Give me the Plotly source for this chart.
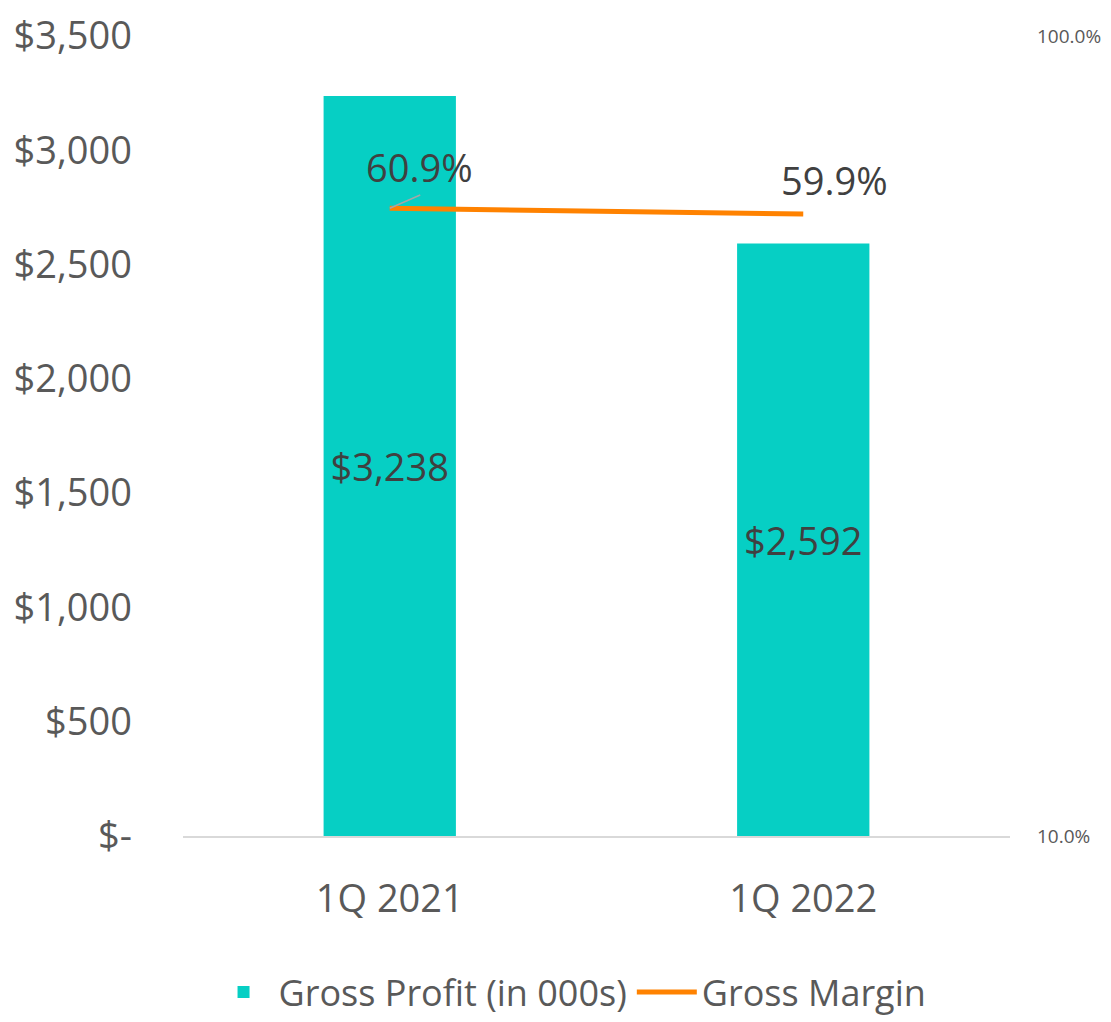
import numpy as np
import plotly.graph_objects as go

categories = ["1Q 2021", "1Q 2022"]
gross_profit = [3238, 2592]
gross_margin = [0.609, 0.599]
left_ticks = [0, 500, 1000, 1500, 2000, 2500, 3000, 3500]
right_ticks = [0.10, 1.00]

BAR_COLOR = "#06CFC4"
LINE_COLOR = "#FF8200"
TICK_COLOR = "#595959"
LABEL_COLOR = "#404040"
FONT = "Open Sans"

def dollar(v):
    return "$-" if v == 0 else "${:,.0f}".format(v)

fig = go.Figure()
fig.add_trace(go.Bar(
    x=categories, y=gross_profit, name="Gross Profit (in 000s)",
    marker=dict(color=BAR_COLOR, line=dict(width=0)),
    text=[dollar(v) for v in gross_profit], textposition="inside",
    insidetextanchor="middle",
    textfont=dict(family=FONT, size=38, color=LABEL_COLOR),
    yaxis="y",
))
fig.add_trace(go.Scatter(
    x=categories, y=gross_margin, name="Gross Margin", mode="lines",
    line=dict(color=LINE_COLOR, width=5), yaxis="y2",
))

# leader line for first margin label
fig.add_annotation(
    x=categories[0], y=np.log10(gross_margin[0]), xref="x", yref="y2",
    text="", showarrow=True, arrowhead=0, arrowwidth=1.5,
    arrowcolor="#A6A6A6", ax=32, ay=-14,
)
fig.add_annotation(
    x=categories[0], y=np.log10(gross_margin[0]), xref="x", yref="y2",
    text="{:.1%}".format(gross_margin[0]), showarrow=False,
    xshift=30, yshift=41,
    font=dict(family=FONT, size=38, color=LABEL_COLOR),
)
fig.add_annotation(
    x=categories[1], y=np.log10(gross_margin[1]), xref="x", yref="y2",
    text="{:.1%}".format(gross_margin[1]), showarrow=False,
    xshift=31, yshift=34,
    font=dict(family=FONT, size=38, color=LABEL_COLOR),
)

TOP, BOTTOM = 28, 186
PLOT_H = 1014 - TOP - BOTTOM

fig.update_layout(
    width=1103, height=1014,
    margin=dict(l=175, r=101, t=TOP, b=BOTTOM, autoexpand=False),
    paper_bgcolor="white", plot_bgcolor="white",
    font=dict(family=FONT, color=TICK_COLOR),
    bargap=0.68,
    showlegend=True,
    legend=dict(orientation="h", x=0.468, xanchor="center", y=-BOTTOM / PLOT_H, yanchor="bottom",
                font=dict(family=FONT, size=36, color=TICK_COLOR),
                itemwidth=60, bgcolor="rgba(0,0,0,0)",
                itemsizing="constant", traceorder="normal"),
    xaxis=dict(showgrid=False, showline=True, linecolor="#D9D9D9", linewidth=2,
               tickfont=dict(family=FONT, size=38, color=TICK_COLOR),
               ticks="", ticklabelstandoff=28, automargin=False),
    yaxis=dict(range=[0, 3500], tickvals=left_ticks,
               ticktext=[dollar(v) for v in left_ticks],
               showgrid=False, zeroline=False, showline=False,
               tickfont=dict(family=FONT, size=38, color=TICK_COLOR),
               ticks="", ticklabelstandoff=50, automargin=False,
               ticklabeloverflow="allow"),
    yaxis2=dict(type="log", range=[np.log10(right_ticks[0]), np.log10(right_ticks[-1])],
                overlaying="y", side="right", tickvals=right_ticks,
                ticktext=["{:.1%}".format(v) for v in right_ticks],
                showgrid=False, zeroline=False, showline=False,
                tickfont=dict(family=FONT, size=19, color=TICK_COLOR),
                ticks="", ticklabelstandoff=26, automargin=False,
                ticklabeloverflow="allow"),
)

fig.write_html("out.html")
